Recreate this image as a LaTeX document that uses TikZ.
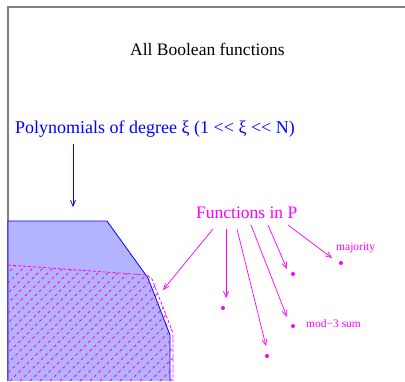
\documentclass[tikz,border=0pt]{standalone}
\usepackage{fontspec}
\setmainfont{Liberation Serif}
\usepackage{tikz}
\usetikzlibrary{positioning,arrows.meta,calc}
\definecolor{polyblue}{HTML}{0000FF}
\definecolor{polyfill}{HTML}{B3B3FF}
\definecolor{pmag}{HTML}{FF00FF}

\begin{document}
\begin{tikzpicture}[x=1pt, y=-1pt,
    bigtext/.style={font=\fontsize{17.5}{20}\selectfont, inner sep=0pt},
    smalltext/.style={font=\fontsize{11.5}{13}\selectfont, inner sep=0pt, text=pmag},
    fdot/.style={circle, fill=pmag, inner sep=0pt, minimum size=4pt},
    parrow/.style={-{Straight Barb[length=6pt, width=5pt]}, pmag, line width=0.7pt},
    barrow/.style={-{Straight Barb[length=6pt, width=5pt]}, polyblue, line width=0.7pt},
]
\useasboundingbox (0,0) rectangle (405,381);
% frame of all functions
\draw[gray, line width=1.5pt] (8,381) -- (8,7) -- (405,7);
\node[bigtext, anchor=base] (ALL) at (207.5,55) {All Boolean functions};

% polynomials of low degree
\fill[polyfill] (8,221) -- (107,221) -- (148,278) -- (170,335) -- (170,381) -- (8,381) -- cycle;
\draw[polyblue, line width=0.8pt] (8,381) -- (8,221) -- (107,221) -- (148,278) -- (170,335) -- (170,381);
\node[bigtext, text=polyblue, anchor=base west, font=\fontsize{18}{20}\selectfont] (POLY) at (15,133) {Polynomials of degree ξ (1 <{}< ξ <{}< N)};
\coordinate (POLYtail) at (73,144);
\coordinate (POLYtip) at (73,207);
\draw[barrow] (POLYtail) -- (POLYtip);

% functions in P, hatched
\begin{scope}
\clip (8,265) -- (147,275) -- (152,279) -- (173,333) -- (173,381) -- (8,381) -- cycle;
\foreach \k in {0,10,...,400}
    \draw[pmag, line width=0.9pt, dash pattern=on 3pt off 3pt] (\k-200,381) -- ++(200,-200);
\end{scope}
\draw[pmag, line width=0.8pt, dash pattern=on 3pt off 2pt] (8,265) -- (147,275) -- (152,279) -- (173,333) -- (173,381);
\node[bigtext, text=pmag, anchor=base west] (FP) at (196,218) {Functions in P};

% sample functions
\node[fdot] (F1) at (223,308) {};
\node[fdot] (F2) at (267,356) {};
\node[fdot] (F3) at (293,326) {};
\node[fdot] (F4) at (293,274) {};
\node[fdot] (F5) at (341,263) {};
\node[smalltext, anchor=base west] (MOD) at (306,327) {mod−3 sum};
\node[smalltext, anchor=base west] (MAJ) at (336,250) {majority};

\foreach \i/\s/\t in {0/{213,229}/{163,290}, 1/{226,229}/{226,298}, 2/{237,229}/{266,346},
                     3/{251,225}/{287,317}, 4/{268,225}/{287,269}, 5/{288,225}/{332,258}} {
    \coordinate (S\i) at (\s);
    \coordinate (T\i) at (\t);
    \draw[parrow] (S\i) -- (T\i);
}
\end{tikzpicture}
\end{document}
